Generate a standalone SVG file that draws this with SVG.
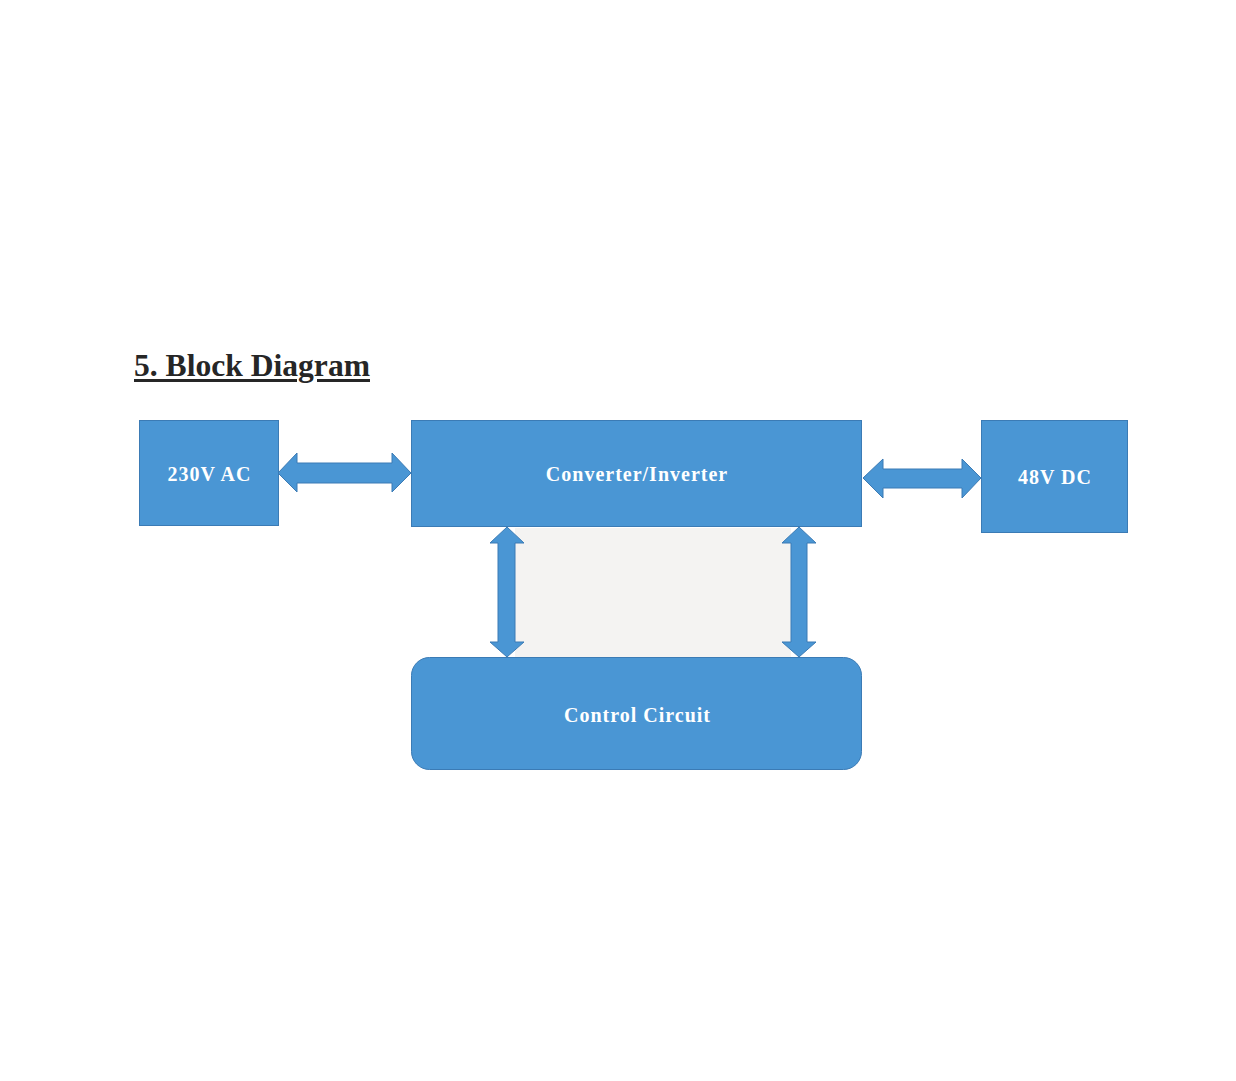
<svg xmlns="http://www.w3.org/2000/svg" width="1236" height="1081" viewBox="0 0 1236 1081">
<style>
.blk{fill:#4a96d4;stroke:#3b7bb5;stroke-width:1}
.arr{fill:#4a96d4;stroke:#3b7bb5;stroke-width:1;stroke-linejoin:miter}
.lbl{font-family:"Liberation Serif",serif;font-weight:bold;font-size:20px;fill:#ffffff;text-anchor:middle;letter-spacing:1px}
.title{font-family:"Liberation Serif",serif;font-weight:bold;font-size:31px;fill:#262626}
.ul{fill:#262626}
</style>
<rect width="1236" height="1081" fill="#ffffff"/>
<g id="title">
<text class="title" x="134" y="376" textLength="236" lengthAdjust="spacingAndGlyphs">5. Block Diagram</text>
<rect class="ul" x="134" y="379" width="163" height="3"/>
<rect class="ul" x="317" y="379" width="53" height="3"/>
</g>
<rect id="gap-fill" x="515" y="528" width="276" height="129" fill="#f4f3f2"/>
<g id="connectors">
<polygon class="arr" points="278,473 297,453 297,463 392,463 392,453 411,473 392,492 392,483 297,483 297,492"/>
<polygon class="arr" points="863,478 883,459 883,469 962,469 962,459 981,478 962,498 962,488 883,488 883,498"/>
<polygon class="arr" points="507,527 524,543 515,543 515,642 524,642 507,657 490,642 498,642 498,543 490,543"/>
<polygon class="arr" points="799,527 816,543 807,543 807,642 816,642 799,657 782,642 791,642 791,543 782,543"/>
</g>
<g id="n-230vac">
<rect class="blk" x="139.5" y="420.5" width="139" height="105"/>
<text class="lbl" x="209.5" y="481">230V AC</text>
</g>
<g id="n-converter">
<rect class="blk" x="411.5" y="420.5" width="450" height="106"/>
<text class="lbl" x="637" y="481">Converter/Inverter</text>
</g>
<g id="n-48vdc">
<rect class="blk" x="981.5" y="420.5" width="146" height="112"/>
<text class="lbl" x="1055" y="484">48V DC</text>
</g>
<g id="n-control">
<rect class="blk" x="411.5" y="657.5" width="450" height="112" rx="18" ry="18"/>
<text class="lbl" x="637.5" y="722">Control Circuit</text>
</g>
</svg>
